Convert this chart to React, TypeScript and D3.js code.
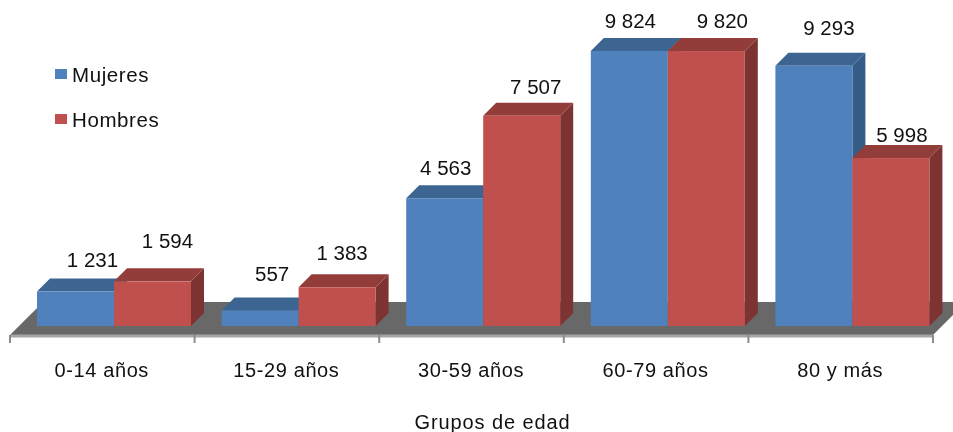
import { useEffect, useRef } from 'react'
import * as d3 from 'd3'

const categories = ['0-14 años', '15-29 años', '30-59 años', '60-79 años', '80 y más']
const seriesNames = ['Mujeres', 'Hombres']
const mujeres = [1231, 557, 4563, 9824, 9293]
const hombres = [1594, 1383, 7507, 9820, 5998]
const axisTitle = 'Grupos de edad'

// colores: frente, tapa, lateral
const palette: Record<string, string[]> = {
  Mujeres: ['#4f81bd', '#3c6592', '#365c88'],
  Hombres: ['#c0504d', '#933d3b', '#7c3331'],
}

// ajustes a mano de las etiquetas (dx, dy desde el centro de la tapa)
const labelNudge: Record<string, number[][]> = {
  Mujeres: [[4, -25], [-1, -29], [-12, -23], [-12, -23], [2, -31]],
  Hombres: [[2, -33], [-8, -27], [1, -22], [3, -23], [-2, -16]],
}

const W = 953
const H = 432
const DEPTH = 13
const FONT = '"Liberation Sans", Arial, sans-serif'

export default function App() {
  const ref = useRef<SVGSVGElement>(null)

  useEffect(() => {
    if (!ref.current) return
    const svg = d3.select(ref.current)
    svg.selectAll('*').remove()

    const x0 = d3.scaleBand().domain(categories).range([10, 933])
    const x1 = d3.scaleBand().domain(seriesNames).range([27, 181])
    const y = d3.scaleLinear().domain([0, 10000]).range([326, 46])
    const fmt = d3.formatLocale({ decimal: ',', thousands: ' ', grouping: [3], currency: ['', ''] }).format(',d')

    // suelo
    const floorY = 335
    const backY = y(0) - DEPTH * 1.85
    svg.append('path')
      .attr('d', `M10,${floorY}L${10 + floorY - backY},${backY}L${933 + floorY - backY},${backY}L933,${floorY}Z`)
      .attr('fill', '#686868')

    // eje
    svg.append('line')
      .attr('x1', 10).attr('x2', 933).attr('y1', 336).attr('y2', 336)
      .attr('stroke', '#a6a6a6').attr('stroke-width', 3)
    const edges = [...categories.map(c => x0(c) as number), 933]
    svg.selectAll('line.tick').data(edges).enter().append('line')
      .attr('class', 'tick')
      .attr('x1', d => d).attr('x2', d => d).attr('y1', 335).attr('y2', 343)
      .attr('stroke', '#8c8c8c').attr('stroke-width', 2)

    // barras
    const rows = [mujeres, hombres]
    seriesNames.forEach((name, s) => {
      const [front, top, side] = palette[name]
      const g = svg.append('g')
      const data = categories.map((c, i) => ({
        left: (x0(c) as number) + (x1(name) as number),
        yTop: y(rows[s][i]),
        value: rows[s][i],
        i,
      }))
      const w = x1.bandwidth()
      const bar = g.selectAll('g').data(data).enter().append('g')
      bar.append('path')
        .attr('d', d => `M${d.left + w},${d.yTop}L${d.left + w + DEPTH},${d.yTop - DEPTH}L${d.left + w + DEPTH},${y(0) - DEPTH}L${d.left + w},${y(0)}Z`)
        .attr('fill', side)
      bar.append('path')
        .attr('d', d => `M${d.left},${d.yTop}L${d.left + DEPTH},${d.yTop - DEPTH}L${d.left + w + DEPTH},${d.yTop - DEPTH}L${d.left + w},${d.yTop}Z`)
        .attr('fill', top)
      bar.append('rect')
        .attr('x', d => d.left).attr('y', d => d.yTop)
        .attr('width', w).attr('height', d => y(0) - d.yTop)
        .attr('fill', front)
    })

    // etiquetas de valor, encima de todas las barras
    seriesNames.forEach((name, s) => {
      svg.append('g').selectAll('text').data(rows[s]).enter().append('text')
        .attr('x', (d, i) => (x0(categories[i]) as number) + (x1(name) as number) + x1.bandwidth() / 2 + DEPTH + labelNudge[name][i][0])
        .attr('y', (d, i) => y(d) + labelNudge[name][i][1])
        .attr('text-anchor', 'middle')
        .attr('font-size', 20.5)
        .attr('font-family', FONT)
        .attr('fill', '#111')
        .text(d => fmt(d))
    })

    // categorias
    svg.append('g').selectAll('text').data(categories).enter().append('text')
      .attr('x', d => (x0(d) as number) + x0.bandwidth() / 2 - 0.5)
      .attr('y', 377)
      .attr('text-anchor', 'middle')
      .attr('font-size', 20)
      .attr('font-family', FONT)
      .attr('letter-spacing', 0.6)
      .attr('fill', '#111')
      .text(d => d)

    svg.append('text')
      .attr('x', 492.5).attr('y', 429)
      .attr('text-anchor', 'middle')
      .attr('font-size', 20)
      .attr('font-family', FONT)
      .attr('letter-spacing', 0.9)
      .attr('fill', '#111')
      .text(axisTitle)

    // leyenda
    const legend = svg.append('g').selectAll('g').data(seriesNames).enter().append('g')
      .attr('transform', (d, i) => `translate(55,${69 + i * 45})`)
    legend.append('rect')
      .attr('width', 12).attr('height', 10)
      .attr('fill', d => palette[d][0])
    legend.append('text')
      .attr('x', 17).attr('y', 13)
      .attr('font-size', 20.5)
      .attr('font-family', FONT)
      .attr('letter-spacing', 0.6)
      .attr('fill', '#111')
      .text(d => d)
  }, [])

  return <svg ref={ref} width={W} height={H} viewBox={`0 0 ${W} ${H}`} style={{ position: 'absolute', left: 0, top: 0, filter: 'blur(0.4px)' }} />
}
